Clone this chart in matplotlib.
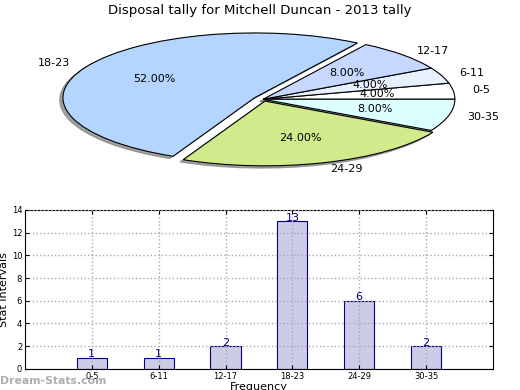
import numpy as np
import matplotlib
matplotlib.use("Agg")
import matplotlib.pyplot as plt

# Tally data
intervals = ["0-5", "6-11", "12-17", "18-23", "24-29", "30-35"]
counts = [1, 1, 2, 13, 6, 2]
pie_colors = ["#ffffff", "#e8f0ff", "#c6d8ff", "#b3d5ff", "#d0ea8c", "#dcffff"]
explode = [0, 0, 0, 0.05, 0.03, 0]

fig = plt.figure(figsize=(5.2, 3.9), dpi=100)

# Pie (squashed, no equal aspect)
ax1 = fig.add_axes([0.045, 0.538, 0.922, 0.415])
wedges, texts, autotexts = ax1.pie(counts, labels=intervals, colors=pie_colors,
                                   explode=explode, autopct="%1.2f%%",
                                   shadow={"ox": -0.012, "oy": -0.025,
                                           "facecolor": "#7a7a7a", "edgecolor": "#7a7a7a",
                                           "alpha": 0.7},
                                   startangle=0, textprops={"fontsize": 8},
                                   wedgeprops={"edgecolor": "black", "linewidth": 0.8})
ax1.set_aspect("auto")
ax1.set_xlim(-1.25, 1.25)
ax1.set_ylim(-1.25, 1.25)
fig.text(0.5, 0.99, "Disposal tally for Mitchell Duncan - 2013 tally",
         ha="center", va="top", fontsize=9.5)

# Bar chart
ax2 = fig.add_axes([0.048, 0.054, 0.9, 0.408])
x = np.arange(len(intervals))
bars = ax2.bar(x, counts, width=0.45, color="#ccccE6", edgecolor="#000080", linewidth=0.8)
for xi, c in zip(x, counts):
    ax2.annotate(str(c), (xi, c), xytext=(0, 2.5), textcoords="offset points",
                 ha="center", va="center", fontsize=8, color="#000080")
ax2.set_xlim(-1, 6)
ax2.set_ylim(0, 14)
ax2.set_yticks(range(0, 15, 2))
ax2.set_xticks(x)
ax2.set_xticklabels(intervals)
ax2.tick_params(labelsize=6, direction="in", top=True, right=True, length=3, pad=2)
ax2.grid(True, linestyle=":", color="#aaaaaa", linewidth=1)
ax2.set_axisbelow(False)
ax2.set_ylabel("Stat Intervals", fontsize=8, labelpad=2)
ax2.set_xlabel("Frequency", fontsize=8, labelpad=1)

fig.text(0.0, 0.01, "Dream-Stats.com", fontsize=7.8, color="#999999",
         ha="left", va="bottom", fontweight="bold", alpha=0.8)

fig.savefig("out.png", dpi=100)
